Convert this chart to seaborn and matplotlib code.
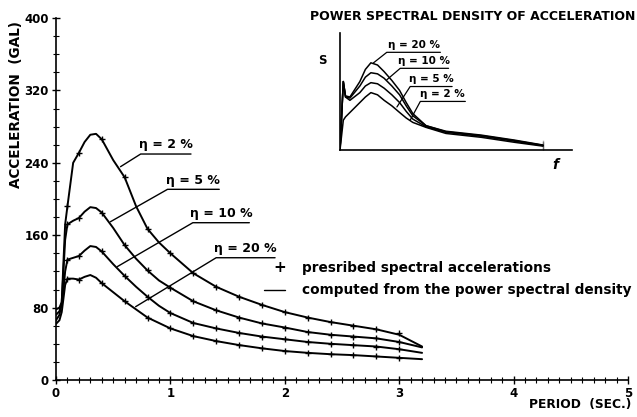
import numpy as np
import pandas as pd
import seaborn as sns
import matplotlib.pyplot as plt

# computed response spectra (from the PSD), period in sec, acceleration in gal
period = [0, 0.03, 0.05, 0.065, 0.08, 0.1, 0.15, 0.2, 0.25, 0.3, 0.35, 0.4, 0.5, 0.6,
          0.7, 0.8, 0.9, 1.0, 1.2, 1.4, 1.6, 1.8, 2.0, 2.2, 2.4, 2.6, 2.8, 3.0, 3.2]
acc_2 = [66, 72, 85, 130, 172, 192, 240, 251, 263, 271, 272, 266, 243, 224,
         192, 167, 152, 140, 118, 103, 92, 83, 75, 69, 64, 60, 56, 50, 37]
acc_5 = [78, 80, 86, 120, 155, 172, 176, 179, 186, 191, 190, 185, 168, 149,
         134, 121, 110, 102, 87, 77, 69, 62.5, 58, 53, 50, 48, 46, 42, 36]
acc_10 = [72, 76, 83, 100, 120, 133, 135, 137, 143, 148, 147, 142, 128, 115,
          103, 92, 82, 74, 63, 57, 52, 48, 45, 42, 40, 38.5, 37, 34, 30]
acc_20 = [62, 66, 75, 90, 105, 112, 112, 111, 114, 116, 113, 107, 97, 87,
          78, 69, 63, 57, 48.5, 43, 38.6, 35, 32, 30, 28.5, 27.5, 26, 24.5, 23]

# prescribed spectral accelerations (+ marks)
period_pres = [0.1, 0.2, 0.4, 0.6, 0.8, 1.0, 1.2, 1.4, 1.6, 1.8, 2.0, 2.2, 2.4, 2.6, 2.8, 3.0]
pres_2 = [192, 251, 266, 224, 167, 140, 118, 103, 92, 83, 75, 69, 64, 60, 56, 52]
pres_5 = [172, 179, 185, 149, 121, 102, 87, 77, 69, 62.5, 58, 53, 50, 48, 46, 42]
pres_10 = [133, 137, 142, 115, 92, 74, 63, 57, 52, 48, 45, 42, 40, 38.5, 37, 34]
pres_20 = [112, 111, 107, 87, 69, 57, 48.5, 43, 38.6, 35, 32, 30, 28.5, 27.5, 26, 24.5]

# inset: power spectral density (arbitrary units)
freq = [0, 0.15, 0.25, 0.45, 0.9, 1.15, 1.4, 1.7, 2.0, 2.35, 2.7, 3.0, 3.3, 3.9,
        4.8, 6.4, 7.9, 9.2, 9.2]
psd_2 = [0, 0.27, 0.30, 0.34, 0.43, 0.48, 0.52, 0.50, 0.45, 0.40, 0.34, 0.29, 0.25, 0.205,
         0.15, 0.115, 0.07, 0.07, 0]
psd_5 = [0, 0.62, 0.48, 0.45, 0.52, 0.58, 0.61, 0.60, 0.56, 0.50, 0.43, 0.35, 0.28, 0.21,
         0.16, 0.125, 0.08, 0.08, 0]
psd_10 = [0, 0.62, 0.48, 0.47, 0.58, 0.66, 0.70, 0.69, 0.65, 0.58, 0.50, 0.40, 0.31, 0.22,
          0.165, 0.13, 0.085, 0.085, 0]
psd_20 = [0, 0.62, 0.49, 0.48, 0.62, 0.73, 0.79, 0.77, 0.71, 0.63, 0.54, 0.43, 0.33, 0.22,
          0.17, 0.135, 0.09, 0.09, 0]

sns.set_style("ticks")
plt.rcParams['font.family'] = ['DejaVu Sans']
plt.rcParams['font.weight'] = 'bold'
plt.rcParams['text.color'] = 'black'
plt.rcParams['xtick.color'] = 'black'
plt.rcParams['ytick.color'] = 'black'
plt.rcParams['axes.edgecolor'] = 'black'

fig = plt.figure(figsize=(6.37, 4.17), dpi=100)
ax = fig.add_axes([56 / 637, 37 / 417, 572 / 637, 362 / 417])

for acc in [acc_2, acc_5, acc_10, acc_20]:
    sns.lineplot(x=period, y=acc, ax=ax, color='black', lw=1.4)
for pres in [pres_2, pres_5, pres_10, pres_20]:
    sns.scatterplot(x=period_pres, y=pres, ax=ax, marker='+', color='black',
                    s=18, linewidth=1.0, zorder=3)

ax.set_xlim(0, 5)
ax.set_ylim(0, 400)
ax.set_xticks(range(0, 6))
ax.set_yticks(range(0, 401, 80))
ax.set_xticks(np.arange(0, 5.01, 0.1), minor=True)
ax.set_yticks(range(0, 401, 20), minor=True)
ax.tick_params(which='major', direction='inout', length=6, width=1, labelsize=8.5, pad=2)
ax.tick_params(which='minor', direction='inout', length=4, width=0.8)
sns.despine(ax=ax)
for sp in ['left', 'bottom']:
    ax.spines[sp].set_linewidth(1.2)

ax.text(-0.07, 0.76, 'ACCELERATION  (GAL)', transform=ax.transAxes, rotation=90,
        ha='center', va='center', fontsize=9.8)
ax.text(0.916, -0.069, 'PERIOD  (SEC.)', transform=ax.transAxes,
        ha='center', va='center', fontsize=8.8)

# damping labels with leader lines
labels_main = [('η = 2 %', 0.564, 235.7, 0.74, 249.7, 1.18),
               ('η = 5 %', 0.476, 174.9, 0.975, 210.7, 1.427),
               ('η = 10 %', 0.535, 125.2, 1.196, 173.8, 1.69),
               ('η = 20 %', 0.696, 81.0, 1.40, 135.1, 1.915)]
for txt, x0, y0, x1, y1, x2 in labels_main:
    ax.plot([x0, x1, x2], [y0, y1, y1], color='black', lw=1.0)
    ax.text((x1 + x2) / 2, y1 + 3, txt, ha='center', va='bottom', fontsize=9)

ax.text(1.956, 123.8, '+', ha='center', va='center', fontsize=11)
ax.text(2.15, 123.8, 'presribed spectral accelerations', ha='left', va='center',
        fontsize=9.8)
ax.plot([1.82, 2.0], [99.4, 99.4], color='black', lw=1.0)
ax.text(2.15, 99.4, 'computed from the power spectral density', ha='left', va='center',
        fontsize=9.8)

# inset
ins = fig.add_axes([340 / 637, 267 / 417, 231.7 / 637, 117 / 417])
for psd in [psd_2, psd_5, psd_10, psd_20]:
    sns.lineplot(x=freq, y=psd, ax=ins, color='black', lw=1.1, sort=False)
ins.set_xlim(0, 10.5)
ins.set_ylim(0, 1.06)
ins.set_xticks([])
ins.set_yticks([])
ins.patch.set_alpha(0)
sns.despine(ax=ins)
for sp in ['left', 'bottom']:
    ins.spines[sp].set_linewidth(1.2)

labels_ins = [('η = 20 %', 1.52, 0.79, 2.12, 0.885, 4.55),
              ('η = 10 %', 2.12, 0.636, 2.73, 0.74, 4.92),
              ('η = 5 %', 2.58, 0.39, 3.18, 0.575, 5.08),
              ('η = 2 %', 3.18, 0.27, 3.64, 0.44, 5.68)]
for txt, x0, y0, x1, y1, x2 in labels_ins:
    ins.plot([x0, x1, x2], [y0, y1, y1], color='black', lw=0.9)
    ins.text((x1 + x2) / 2, y1 + 0.02, txt, ha='center', va='bottom', fontsize=7.5)

fig.text(473 / 637, 1 - 16 / 417, 'POWER SPECTRAL DENSITY OF ACCELERATION',
         ha='center', va='center', fontsize=9)
fig.text(322 / 637, 1 - 60 / 417, 'S', ha='center', va='center', fontsize=8.5)
fig.text(555 / 637, 1 - 165 / 417, 'f', ha='center', va='center', fontsize=10,
         style='italic')

fig.savefig('out.png', dpi=100)
